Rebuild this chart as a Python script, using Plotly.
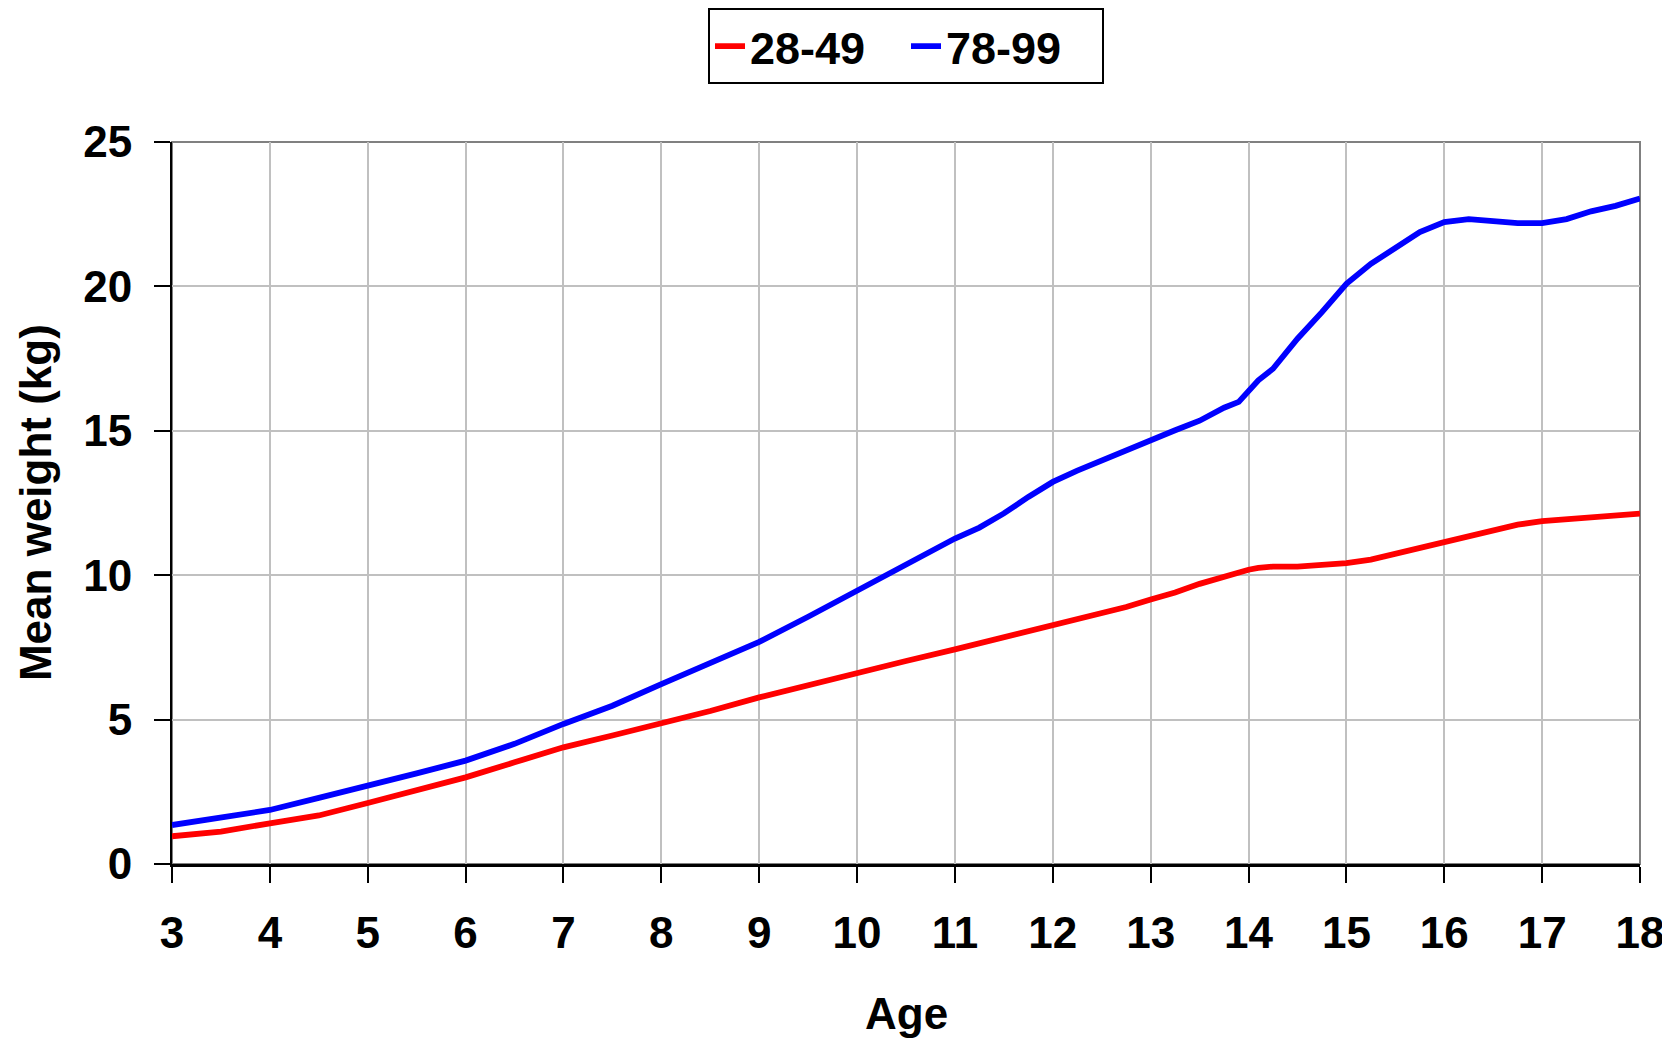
import plotly.graph_objects as go

ages = [3, 3.5, 4, 4.5, 5, 5.5, 6, 6.5, 7, 7.5, 8, 8.5, 9, 9.5, 10, 10.5, 11,
        11.25, 11.5, 11.75, 12, 12.25, 12.5, 12.75, 13, 13.25, 13.5, 13.75, 13.9,
        14, 14.1, 14.25, 14.5, 14.75, 15, 15.25, 15.5, 15.75, 16, 16.25, 16.5,
        16.75, 17, 17.25, 17.5, 17.75, 18]

w_28_49 = [0.96, 1.12, 1.41, 1.68, 2.11, 2.54, 3.00, 3.52, 4.04, 4.45, 4.85, 5.30,
           5.77, 6.20, 6.63, 7.03, 7.43, 7.64, 7.85, 8.06, 8.27, 8.47, 8.67, 8.90,
           9.16, 9.40, 9.70, 9.97, 10.10, 10.19, 10.25, 10.30, 10.30, 10.36, 10.42,
           10.54, 10.74, 10.95, 11.16, 11.37, 11.55, 11.75, 11.87, 11.93, 11.99,
           12.06, 12.13]

w_78_99 = [1.35, 1.62, 1.87, 2.29, 2.69, 3.14, 3.58, 4.16, 4.85, 5.48, 6.23, 6.95,
           7.69, 8.56, 9.48, 10.38, 11.27, 11.65, 12.14, 12.71, 13.23, 13.62, 13.98,
           14.34, 14.70, 15.02, 15.35, 15.80, 16.00, 16.38, 16.75, 17.15, 18.19,
           19.11, 20.09, 20.78, 21.36, 21.88, 22.23, 22.33, 22.26, 22.19, 22.19,
           22.33, 22.60, 22.79, 23.04]

series_names = ["28-49", "78-99"]
series_colors = ["#ff0000", "#0000ff"]
x_ticks = list(range(3, 19))
y_ticks = [0, 5, 10, 15, 20, 25]
x_title = "Age"
y_title = "Mean weight (kg)"

FONT = "Liberation Sans, Arial, sans-serif"

fig = go.Figure()
for name, vals, col in zip(series_names, [w_28_49, w_78_99], series_colors):
    fig.add_trace(go.Scatter(x=ages, y=vals, mode="lines", name=name,
                             line=dict(color=col, width=5.8)))

# page body has an 8px default margin; the figure is sized to fill the rest
fig.update_layout(
    width=1662, height=1033,
    margin=dict(l=164, r=30, t=134, b=177, autoexpand=False),
    paper_bgcolor="white", plot_bgcolor="white",
    font=dict(family=FONT, size=44, color="black"),
    showlegend=True,
    legend=dict(orientation="h", x=0.5, xanchor="center", y=1.185, yanchor="top",
                bordercolor="black", borderwidth=2, bgcolor="white",
                font=dict(family=FONT, size=45, color="black", weight="bold"),
                entrywidth=151, entrywidthmode="pixels", tracegroupgap=0),
    xaxis=dict(range=[3, 18], tickvals=x_ticks, ticktext=[str(v) for v in x_ticks],
               showgrid=True, gridcolor="#c0c0c0", gridwidth=2,
               showline=True, linecolor="black", linewidth=2.5,
               ticks="outside", ticklen=16, tickwidth=1.5, tickcolor="black",
               ticklabelstandoff=12, zeroline=False, automargin=False,
               ticklabeloverflow="allow",
               tickfont=dict(family=FONT, size=44, weight="bold")),
    yaxis=dict(range=[0, 25], tickvals=y_ticks, ticktext=[str(v) for v in y_ticks],
               showgrid=True, gridcolor="#c0c0c0", gridwidth=2,
               showline=True, linecolor="black", linewidth=2,
               ticks="outside", ticklen=16, tickwidth=2, tickcolor="black",
               ticklabelstandoff=13, zeroline=False, automargin=False,
               tickfont=dict(family=FONT, size=44, weight="bold")),
    annotations=[
        dict(text="<b>" + x_title + "</b>", xref="paper", yref="paper",
             x=0.5, y=-0.207, xanchor="center", yanchor="middle", showarrow=False,
             font=dict(family=FONT, size=44, color="black")),
        dict(text="<b>" + y_title + "</b>", xref="paper", yref="paper",
             x=-0.0933, y=0.5, xanchor="center", yanchor="middle", showarrow=False,
             textangle=-90, font=dict(family=FONT, size=44, color="black")),
    ],
    shapes=[dict(type="rect", xref="paper", yref="paper", x0=0, x1=1, y0=0, y1=1,
                 line=dict(color="#808080", width=2), layer="below")],
)

fig.write_html("out.html")
